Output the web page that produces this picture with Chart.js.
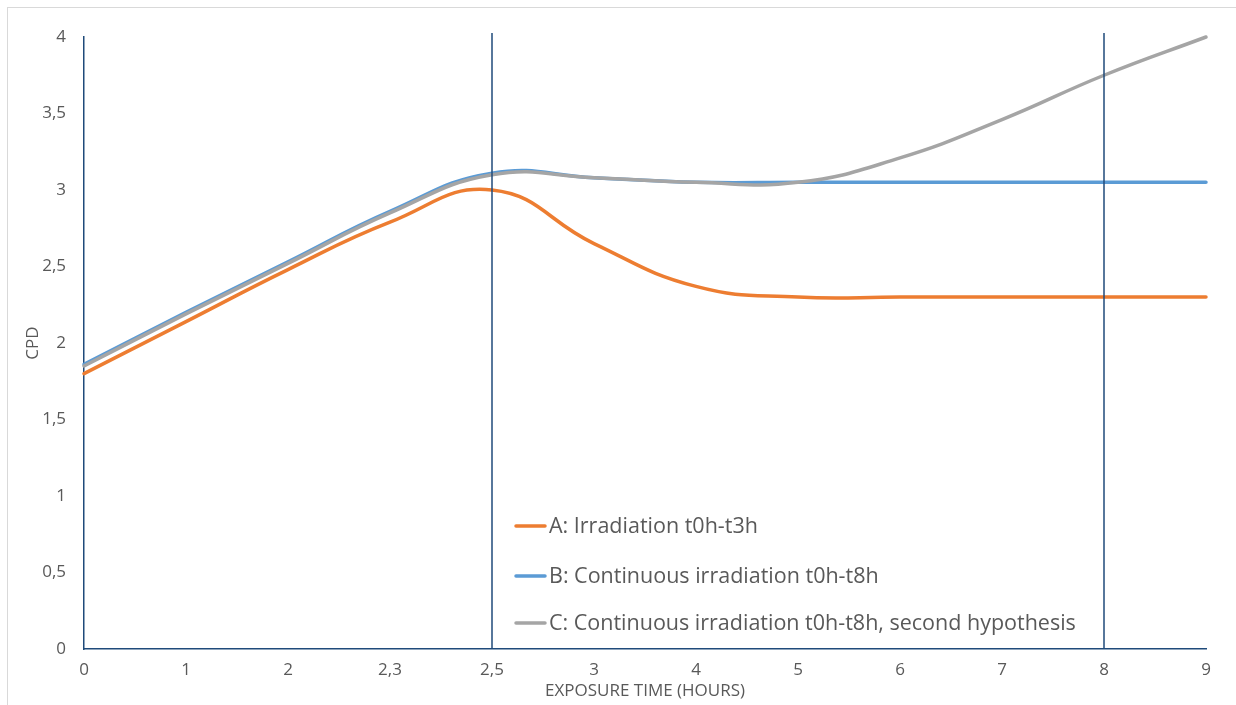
<!DOCTYPE html>
<html>
<head>
    <meta charset="utf-8" />
    <title>CPD vs exposure time</title>
    <script src="https://cdn.jsdelivr.net/npm/chart.js"></script>
    <style>
        body { margin: 0; background: #fff; overflow: hidden; }
        #frame { position: absolute; left: 7px; top: 7px; width: 1240px; height: 710px; border: 1px solid #d9d9d9; }
        #box { position: absolute; left: 0; top: 0; width: 1236px; height: 705px; }
    </style>
</head>
<body>
    <div id="frame"></div>
    <div id="box">
        <canvas id="myChart"></canvas>
    </div>

<script>
// x categories (hours) - equally spaced as in the original sheet
var hours = ['0', '1', '2', '2,3', '2,5', '3', '4', '5', '6', '7', '8', '9'];

// CPD values
var seriesA = [1.80, 2.14, 2.48, 2.79, 3.00, 2.65, 2.37, 2.30, 2.30, 2.30, 2.30, 2.30];
var seriesB = [1.86, 2.20, 2.53, 2.86, 3.11, 3.08, 3.05, 3.05, 3.05, 3.05, 3.05, 3.05];
var seriesC = [1.85, 2.19, 2.52, 2.85, 3.10, 3.08, 3.05, 3.05, 3.21, 3.46, 3.75, 4.00];

var yTicks = [0, 0.5, 1, 1.5, 2, 2.5, 3, 3.5, 4];

// vertical marker lines at these categories
var markers = ['2,5', '8'];

var navy = '#1f4a7a';
var textColor = '#595959';
var fontFamily = "'Open Sans', 'Noto Sans', sans-serif";

// draws the vertical markers on top of the lines
var markerPlugin = {
    id: 'markers',
    afterDatasetsDraw: function(chart) {
        var ctx = chart.ctx;
        var x = chart.scales.x;
        var area = chart.chartArea;
        ctx.save();
        ctx.strokeStyle = navy;
        ctx.lineWidth = 1.5;
        markers.forEach(function(m) {
            var px = x.getPixelForValue(hours.indexOf(m));
            ctx.beginPath();
            ctx.moveTo(px, area.top - 4);
            ctx.lineTo(px, area.bottom);
            ctx.stroke();
        });
        ctx.restore();
    }
};

// legend sitting inside the plot, like the excel one
var legendPlugin = {
    id: 'innerLegend',
    afterDraw: function(chart) {
        var ctx = chart.ctx;
        var left = 516;
        var rows = [526, 576, 623];
        ctx.save();
        ctx.font = '21.5px ' + fontFamily;
        ctx.textBaseline = 'middle';
        chart.data.datasets.forEach(function(ds, i) {
            var y = rows[i];
            ctx.strokeStyle = ds.borderColor;
            ctx.lineWidth = 3.5;
            ctx.lineCap = 'round';
            ctx.beginPath();
            ctx.moveTo(left, y);
            ctx.lineTo(left + 29, y);
            ctx.stroke();
            ctx.fillStyle = textColor;
            ctx.fillText(ds.label, left + 33, y + 1);
        });
        ctx.restore();
    }
};

var ctx = document.getElementById('myChart').getContext('2d');
var chart = new Chart(ctx, {
    type: 'line',
    data: {
        labels: hours,
        datasets: [{
            label: 'A: Irradiation t0h-t3h',
            data: seriesA,
            borderColor: '#ed7d31',
            order: 3
        },
        {
            label: 'B: Continuous irradiation t0h-t8h',
            data: seriesB,
            borderColor: '#5b9bd5',
            order: 2
        },
        {
            label: 'C: Continuous irradiation t0h-t8h, second hypothesis',
            data: seriesC,
            borderColor: '#a5a5a5',
            order: 1
        }]
    },
    options: {
        responsive: true,
        maintainAspectRatio: false,
        animation: false,
        layout: { padding: { top: 37, right: 30, left: 0, bottom: 0 } },
        elements: {
            line: { borderWidth: 3.5, tension: 0.45, fill: false, borderCapStyle: 'round' },
            point: { radius: 0, hoverRadius: 0 }
        },
        datasets: { line: { clip: false } },
        plugins: {
            legend: { display: false },
            tooltip: { enabled: false }
        },
        scales: {
            x: {
                type: 'category',
                offset: false,
                grid: { display: false, drawTicks: false },
                border: { display: true, color: navy, width: 1.5 },
                ticks: { color: textColor, font: { family: fontFamily, size: 17 }, padding: 11, maxRotation: 0, autoSkip: false },
                title: { display: true, text: 'EXPOSURE TIME (HOURS)', color: textColor, font: { family: fontFamily, size: 17 }, padding: { top: 0, bottom: 4 } },
                afterFit: function(scale) { scale.height = 56; }
            },
            y: {
                min: 0,
                max: 4,
                afterBuildTicks: function(scale) {
                    scale.ticks = yTicks.map(function(v) { return { value: v }; });
                },
                grid: { display: false, drawTicks: false },
                border: { display: true, color: navy, width: 1.5 },
                ticks: {
                    color: textColor,
                    font: { family: fontFamily, size: 17 },
                    padding: 18,
                    callback: function(v) { return String(v).replace('.', ','); }
                },
                title: { display: true, text: 'CPD', color: textColor, font: { family: fontFamily, size: 17 }, padding: { top: 23, bottom: 0 } },
                afterFit: function(scale) { scale.width = 84; }
            }
        }
    },
    plugins: [markerPlugin, legendPlugin]
});
</script>
</body>
</html>
